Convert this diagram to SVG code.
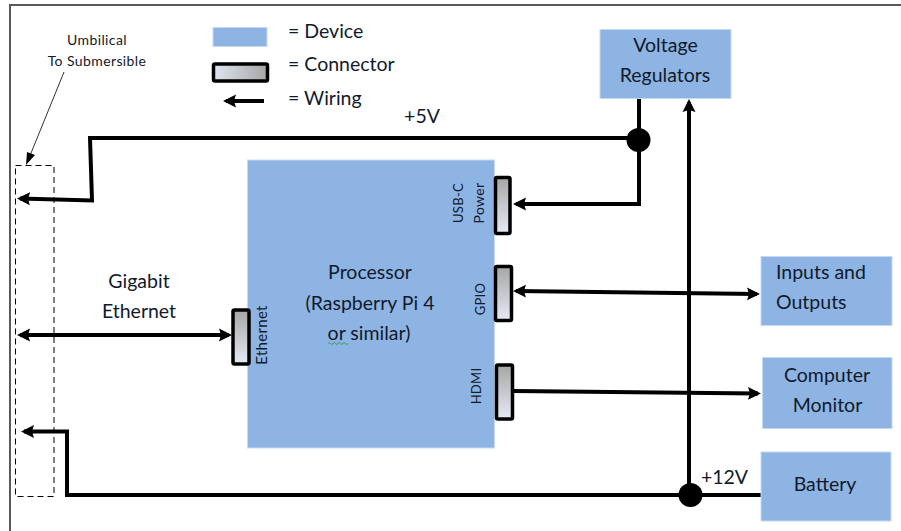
<svg xmlns="http://www.w3.org/2000/svg" width="901" height="531" viewBox="0 0 901 531">
<style>
.dev{fill:#8eb4e3;stroke:#c6d9f1;stroke-width:1}
.conn{stroke:#000;stroke-width:3.5}
.w{fill:none;stroke:#000;stroke-width:4;stroke-linejoin:miter}
.dash{fill:none;stroke:#000;stroke-width:1;stroke-dasharray:6 4}
text{font-family:Lato,"Liberation Sans",sans-serif;fill:#111a2b;font-size:19.500px;text-anchor:middle}
.s{font-size:14px;letter-spacing:.4px}
.r{font-size:13px;letter-spacing:.3px}
</style>
<defs>
<linearGradient id="gv" x1="0" y1="0" x2="0" y2="1"><stop offset="0" stop-color="#a6a6a6"/><stop offset="1" stop-color="#e6eaf4"/></linearGradient>
<linearGradient id="gh" x1="0" y1="0" x2="1" y2="0"><stop offset="0" stop-color="#dfe4f0"/><stop offset="1" stop-color="#a6a6a6"/></linearGradient>
<marker id="a" markerUnits="userSpaceOnUse" markerWidth="14" markerHeight="14" refX="10" refY="7" orient="auto-start-reverse"><path d="M0 0.500L13 7L0 13.500L2 7Z" fill="#000"/></marker>
</defs>
<path d="M10 531V5H901" fill="none" stroke="#595959" stroke-width="2"/>
<g id="legend">
<rect class="dev" x="213" y="27.500" width="54" height="19"/>
<rect class="conn" x="213.500" y="64" width="54" height="17" rx="1.500" fill="url(#gh)"/>
<path class="w" d="M264 101H226" marker-end="url(#a)"/>
<text x="288" y="37.500" style="text-anchor:start">= Device</text>
<text x="288" y="71" style="text-anchor:start">= Connector</text>
<text x="288" y="105" style="text-anchor:start">= Wiring</text>
</g>
<g id="umbilical">
<rect class="dash" x="15.500" y="165.500" width="38.500" height="331"/>
<text class="s" x="97" y="44.500">Umbilical</text>
<text class="s" x="97" y="66">To Submersible</text>
<path d="M64 72L29 158" stroke="#333" stroke-width="1" fill="none"/>
<path d="M26 165L27 152L35 155Z" fill="#000"/>
</g>
<g id="connectors">
<path class="w" d="M639 99V138" />
<path class="w" d="M639 138H90L92 200.500L20 198.500" marker-end="url(#a)"/>
<path class="w" d="M639 138V204H516" marker-end="url(#a)"/>
<path class="w" d="M689 495V102" marker-end="url(#a)"/>
<path class="w" d="M762 495H67V431.500H24" marker-end="url(#a)"/>
<path class="w" d="M229 335H20" marker-start="url(#a)" marker-end="url(#a)"/>
<path class="w" d="M516 291L757 294" marker-start="url(#a)" marker-end="url(#a)"/>
<path class="w" d="M513 391L758 393.500" marker-end="url(#a)"/>
<circle cx="638.500" cy="140" r="12" fill="#000"/>
<circle cx="690.500" cy="495" r="12" fill="#000"/>
</g>
<g id="processor">
<rect class="dev" x="247.500" y="160" width="247" height="288"/>
<text x="370" y="279">Processor</text>
<text x="370" y="310">(Raspberry Pi 4</text>
<text x="369" y="340">or similar)</text>
<path d="M328 343.500q1.300-2 2.500 0t2.500 0t2.500 0t2.500 0t2.500 0t2.500 0t2.500 0t2.500 0" fill="none" stroke="#3a9a4a" stroke-width="1"/>
<text class="r" transform="translate(463,203) rotate(-90)">USB-C</text>
<text class="r" style="font-size:14px" transform="translate(484,203) rotate(-90)">Power</text>
<text class="r" transform="translate(485,299) rotate(-90)">GPIO</text>
<text class="r" transform="translate(481,386) rotate(-90)">HDMI</text>
<text class="r" style="font-size:15px" transform="translate(267,335) rotate(-90)">Ethernet</text>
</g>
<g id="usb-c-connector"><rect class="conn" x="495.500" y="177.500" width="14.500" height="56" rx="1.500" fill="url(#gv)"/></g>
<g id="gpio-connector"><rect class="conn" x="495.500" y="266.500" width="16" height="54" rx="1.500" fill="url(#gv)"/></g>
<g id="hdmi-connector"><rect class="conn" x="496.500" y="365" width="16" height="54" rx="1.500" fill="url(#gv)"/></g>
<g id="ethernet-connector"><rect class="conn" x="233" y="310" width="16" height="54" rx="1.500" fill="url(#gv)"/></g>
<g id="gigabit-label">
<text x="139" y="288">Gigabit</text>
<text x="139" y="318">Ethernet</text>
</g>
<text id="v5" x="422" y="123">+5V</text>
<text id="v12" x="724.500" y="484">+12V</text>
<g id="regulators">
<rect class="dev" x="600" y="29.500" width="131" height="69"/>
<text x="665.500" y="52">Voltage</text>
<text x="665" y="82">Regulators</text>
</g>
<g id="inputs">
<rect class="dev" x="761" y="256.500" width="131" height="69"/>
<text x="776" y="279" style="text-anchor:start">Inputs and</text>
<text x="776" y="309" style="text-anchor:start">Outputs</text>
</g>
<g id="monitor">
<rect class="dev" x="762.500" y="357.500" width="129.500" height="71"/>
<text x="827" y="382">Computer</text>
<text x="827.500" y="412">Monitor</text>
</g>
<g id="battery">
<rect class="dev" x="761" y="452" width="130" height="69"/>
<text x="825" y="491">Battery</text>
</g>
</svg>
